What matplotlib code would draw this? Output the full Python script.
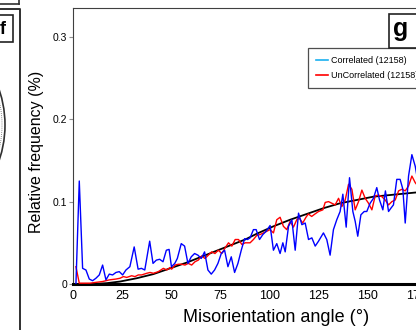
import matplotlib.pyplot as plt
from matplotlib.lines import Line2D
from matplotlib.patches import Rectangle, Circle

plt.rcParams['font.family'] = ['Liberation Sans', 'DejaVu Sans']

# misorientation angle distribution
corr_angle = [1.5, 3.2, 4.9, 6.6, 8.3, 10.0, 11.7, 13.4, 15.1, 16.8, 18.5, 20.2, 21.9,
              23.6, 25.3, 27.0, 29.0, 31.2, 33.2, 34.9, 36.6, 39.1, 40.8, 42.5, 44.2,
              45.9, 47.6, 49.0, 50.2, 51.9, 53.2, 55.2, 56.9, 58.6, 60.3, 62.0, 63.7,
              65.4, 67.1, 68.8, 70.5, 72.2, 73.9, 75.6, 77.3, 79.0, 80.7, 82.4, 84.1,
              85.8, 87.5, 89.0, 90.3, 92.0, 93.4, 95.1, 96.8, 98.5, 100.5, 102.2, 103.9,
              105.6, 107.0, 108.2, 109.9, 111.6, 113.3, 115.0, 116.7, 118.4, 120.1,
              121.8, 123.5, 125.2, 127.7, 129.4, 131.1, 132.8, 134.5, 136.2, 137.6,
              139.3, 141.0, 142.7, 143.9, 145.2, 146.8, 148.5, 149.8, 151.5, 153.2,
              154.9, 156.3, 158.0, 159.3, 160.9, 162.1, 163.4, 165.1, 166.8, 168.2,
              169.4, 171.1, 172.8, 174.5, 176.2]
corr_freq = [0.0, 0.125, 0.019, 0.017, 0.006, 0.004, 0.007, 0.011, 0.023, 0.005, 0.012,
             0.011, 0.014, 0.015, 0.011, 0.017, 0.021, 0.045, 0.018, 0.019, 0.017, 0.052,
             0.025, 0.029, 0.030, 0.027, 0.041, 0.042, 0.021, 0.025, 0.031, 0.049, 0.046,
             0.025, 0.033, 0.037, 0.035, 0.031, 0.039, 0.017, 0.012, 0.017, 0.025, 0.037,
             0.041, 0.021, 0.033, 0.014, 0.025, 0.041, 0.055, 0.054, 0.056, 0.066, 0.066,
             0.054, 0.060, 0.064, 0.071, 0.041, 0.049, 0.037, 0.050, 0.039, 0.070, 0.078,
             0.041, 0.086, 0.072, 0.074, 0.054, 0.056, 0.046, 0.052, 0.062, 0.054, 0.035,
             0.066, 0.078, 0.088, 0.109, 0.069, 0.129, 0.088, 0.076, 0.058, 0.084, 0.088,
             0.088, 0.098, 0.104, 0.117, 0.102, 0.090, 0.113, 0.088, 0.092, 0.096, 0.127,
             0.127, 0.115, 0.074, 0.131, 0.157, 0.143, 0.120]

uncorr_angle = [1.5, 3.2, 5.3, 8.7, 11.7, 15.1, 18.5, 21.9, 24.0, 25.7, 27.4, 29.9, 31.6,
                33.3, 35.0, 37.6, 39.3, 41.0, 43.5, 46.1, 47.8, 49.5, 50.3, 52.0, 53.7,
                55.4, 57.1, 58.8, 60.5, 62.2, 63.9, 65.6, 67.3, 69.0, 70.7, 72.4, 74.1,
                75.9, 77.6, 79.3, 81.0, 82.7, 84.4, 86.1, 87.8, 90.3, 92.0, 93.7, 95.4,
                97.1, 98.8, 100.5, 102.2, 103.9, 105.6, 107.3, 109.0, 110.7, 112.4, 114.1,
                115.4, 117.1, 118.8, 120.0, 121.7, 123.4, 125.2, 127.4, 128.6, 130.3,
                132.0, 133.7, 135.4, 137.1, 138.8, 140.5, 142.2, 143.9, 145.6, 147.3,
                149.0, 150.7, 152.4, 154.1, 155.8, 157.5, 159.2, 160.9, 162.6, 164.3,
                166.0, 167.7, 169.4, 171.1, 172.8, 174.5, 176.2]
uncorr_freq = [0.021, 0.001, 0.001, 0.001, 0.002, 0.003, 0.005, 0.006, 0.007, 0.009, 0.008,
               0.010, 0.009, 0.011, 0.011, 0.013, 0.014, 0.013, 0.015, 0.019, 0.017, 0.020,
               0.018, 0.023, 0.024, 0.024, 0.023, 0.025, 0.023, 0.027, 0.029, 0.034, 0.031,
               0.035, 0.039, 0.037, 0.041, 0.037, 0.044, 0.050, 0.046, 0.054, 0.054, 0.048,
               0.050, 0.050, 0.054, 0.059, 0.060, 0.062, 0.064, 0.066, 0.062, 0.078, 0.081,
               0.070, 0.066, 0.076, 0.069, 0.078, 0.080, 0.074, 0.081, 0.085, 0.082, 0.085,
               0.088, 0.090, 0.099, 0.100, 0.098, 0.096, 0.104, 0.094, 0.102, 0.121, 0.115,
               0.090, 0.100, 0.114, 0.104, 0.098, 0.090, 0.107, 0.108, 0.106, 0.102, 0.096,
               0.100, 0.102, 0.113, 0.115, 0.113, 0.119, 0.131, 0.123, 0.118]

# random (uncorrelated theoretical) distribution
random_angle = [0, 10, 17.2, 24.0, 32.5, 41.0, 49.5, 58.0, 66.5, 75.0, 83.5, 87.8, 93.7,
                102.2, 110.7, 119.2, 127.7, 136.2, 144.7, 153.2, 161.7, 170.2, 174.5, 180]
random_freq = [0, 0, 0.001, 0.003, 0.007, 0.012, 0.019, 0.026, 0.034, 0.042, 0.050, 0.054,
               0.061, 0.070, 0.078, 0.085, 0.092, 0.098, 0.102, 0.106, 0.108, 0.110, 0.111,
               0.112]

x_ticks = [0, 25, 50, 75, 100, 125, 150, 175]
y_ticks = [0, 0.1, 0.2, 0.3]
y_tick_labels = ['0', '0.1', '0.2', '0.3']
legend_labels = ['Correlated (12158)', 'UnCorrelated (12158)']

W, H = 416, 330
fig = plt.figure(figsize=(W / 100, H / 100), dpi=100)
ax = fig.add_axes([73 / W, 46 / H, 353 / W, 276 / H])

ax.plot(random_angle, random_freq, color='black', lw=1.3, zorder=2)
ax.plot(uncorr_angle, uncorr_freq, color='#ff0000', lw=1.0, zorder=3)
ax.plot(corr_angle, corr_freq, color='#0000ff', lw=1.0, zorder=4)

ax.set_xlim(0, 180)
ax.set_ylim(0, 0.335)
ax.set_xticks(x_ticks)
ax.set_xticklabels([str(t) for t in x_ticks])
ax.set_yticks(y_ticks)
ax.set_yticklabels(y_tick_labels)
ax.tick_params(axis='x', length=0, pad=4, labelsize=9)
ax.tick_params(axis='y', length=3, width=0.8, color='#909090', pad=1, labelsize=7.5)

ax.spines['right'].set_visible(False)
ax.spines['top'].set_color('#404040')
ax.spines['left'].set_color('#404040')
ax.spines['bottom'].set_color('black')
ax.spines['bottom'].set_linewidth(2.2)

ax.set_xlabel('Misorientation angle (°)', fontsize=13)
ax.xaxis.label.set_va('center')
ax.xaxis.set_label_coords((276 - 73) / 353, -(318 - 284) / 276)
ax.set_ylabel('Relative frequency (%)', fontsize=11.5)
ax.yaxis.label.set_va('center')
ax.yaxis.set_label_coords(-(73 - 36) / 353, (284 - 152) / 276)

handles = [Line2D([], [], color='#1ab0f0', lw=1.2),
           Line2D([], [], color='#ff0000', lw=1.2)]
leg = ax.legend(handles, legend_labels, loc='upper left',
                bbox_to_anchor=((308 - 73) / 353, (284 - 48) / 276),
                fontsize=6.5, frameon=True, fancybox=False, borderpad=0.9,
                handlelength=1.3, handletextpad=0.4, labelspacing=0.65,
                borderaxespad=0)
leg.get_frame().set_edgecolor('#222222')
leg.get_frame().set_linewidth(0.9)

# overlay in pixel coordinates: panel label and the edge of the neighbouring panel
ov = fig.add_axes([0, 0, 1, 1])
ov.set_xlim(0, W)
ov.set_ylim(H, 0)
ov.axis('off')
ov.patch.set_alpha(0)

ov.add_patch(Rectangle((389, 14), 40, 34, fc='white', ec='#222222', lw=1.2))
ov.text(401, 29, 'g', fontsize=18, fontweight='bold', ha='center', va='center')

ov.plot([0, 19], [4, 4], color='#303030', lw=1.2)
ov.plot([19, 19], [0, 4], color='#303030', lw=1.2)
ov.plot([0, 20, 20], [9, 9, H], color='#303030', lw=1.4)
ov.add_patch(Rectangle((-5, 15), 18, 27, fc='white', ec='#222222', lw=1.2))
ov.text(3, 29, 'f', fontsize=13, fontweight='bold', ha='center', va='center')
ov.add_patch(Circle((-105, 125), 110, fc='none', ec='#303030', lw=1.2))
ov.add_patch(Circle((-105, 125), 107, fc='none', ec='#606060', lw=0.6, ls=(0, (1, 1.5))))

fig.savefig('out.png', dpi=100)
